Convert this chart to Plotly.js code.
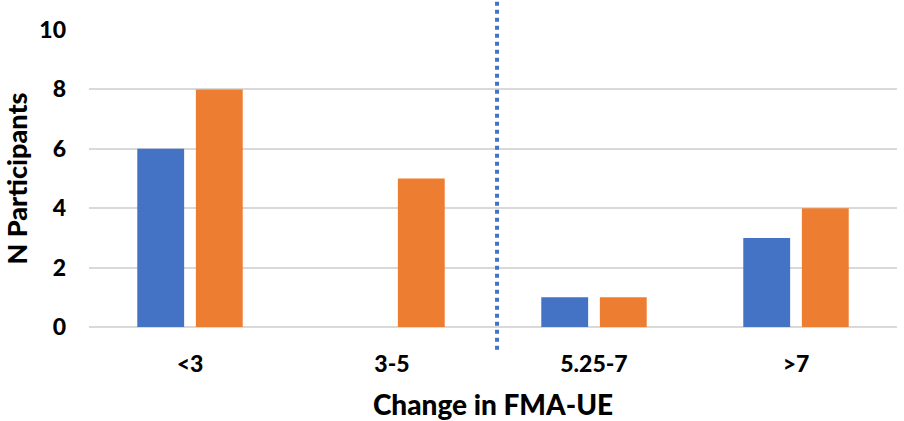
<!DOCTYPE html>
<html>
<head>
<meta charset="utf-8">
<script src="https://cdn.plot.ly/plotly-3.0.1.min.js"></script>
<style>
  html, body { margin: 0; padding: 0; background: #fff; }
  #chart { width: 904px; height: 421px; }
</style>
</head>
<body>
<div id="chart"></div>
<script>
// Data
const categories = ['<3', '3-5', '5.25-7', '>7'];
const seriesA = [6, 0, 1, 3];
const seriesB = [8, 5, 1, 4];
const yTicks = [0, 2, 4, 6, 8, 10];

const font = 'Lato, "Open Sans", sans-serif';

const traces = [
  { x: categories, y: seriesA, type: 'bar', marker: { color: '#4472C4' }, hoverinfo: 'y' },
  { x: categories, y: seriesB, type: 'bar', marker: { color: '#ED7D31' }, hoverinfo: 'y' }
];

const layout = {
  width: 904,
  height: 421,
  margin: { l: 89, r: 7, t: 30, b: 94 },
  paper_bgcolor: '#fff',
  plot_bgcolor: '#fff',
  showlegend: false,
  barmode: 'group',
  bargap: 0.42,
  bargroupgap: 0.2,
  font: { family: font, color: '#000', size: 21, weight: 900 },
  xaxis: {
    type: 'category',
    showgrid: false,
    showline: false,
    ticks: '',
    tickfont: { family: font, size: 23, weight: 900 },
    ticklabelstandoff: 21,
    title: { text: 'Change in FMA-UE', font: { family: font, size: 28, weight: 900 }, standoff: 19 }
  },
  yaxis: {
    range: [0, 10],
    tickvals: yTicks,
    showgrid: true,
    gridcolor: '#d9d9d9',
    gridwidth: 2,
    zeroline: true,
    zerolinecolor: '#d9d9d9',
    zerolinewidth: 2,
    showline: false,
    ticks: '',
    tickfont: { family: font, size: 23, weight: 900 },
    ticklabelstandoff: 22,
    title: { text: 'N Participants', font: { family: font, size: 27, weight: 900 }, standoff: 12 }
  },
  shapes: [{
    type: 'line',
    xref: 'x', yref: 'paper',
    x0: 1.52, x1: 1.52,
    y0: -0.077, y1: 1.1,
    line: { color: '#4472C4', width: 4, dash: 'dot' }
  }]
};

Plotly.newPlot('chart', traces, layout, { displayModeBar: false, staticPlot: true });
</script>
</body>
</html>
